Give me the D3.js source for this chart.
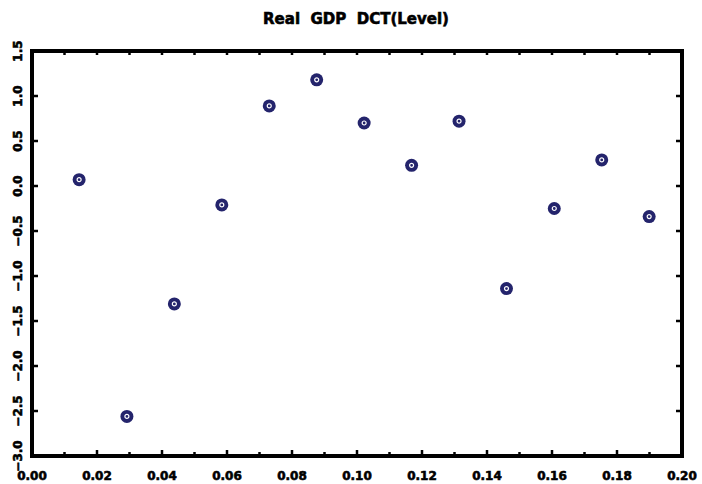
<!DOCTYPE html>
<html>
<head>
<meta charset="utf-8">
<script src="https://cdn.jsdelivr.net/npm/d3@7"></script>
<style>
  body { margin: 0; background: #fff; }
  text { font-family: "DejaVu Sans", "Liberation Sans", sans-serif; font-weight: bold; fill: #000;
         stroke: #000; stroke-width: 0.6px; white-space: pre; }
</style>
</head>
<body>
<div id="chart"></div>
<script>
// values
const xValues = [0.0145, 0.0292, 0.0438, 0.0584, 0.0730, 0.0876, 0.1022,
                 0.1168, 0.1314, 0.1460, 0.1607, 0.1753, 0.1899];
const yValues = [0.07, -2.56, -1.31, -0.21, 0.89, 1.18, 0.70,
                 0.23, 0.72, -1.14, -0.25, 0.29, -0.34];
const xTicks = [0, 0.02, 0.04, 0.06, 0.08, 0.10, 0.12, 0.14, 0.16, 0.18, 0.20];
const xMinorTicks = d3.range(1, 20, 2).map((d) => d / 100);
const yTicks = [-3.0, -2.5, -2.0, -1.5, -1.0, -0.5, 0.0, 0.5, 1.0, 1.5];
const title = "Real  GDP  DCT(Level)";

const width = 702;
const height = 484;
const margin = { top: 51, right: 20, bottom: 28, left: 32 };

const x = d3.scaleLinear().domain([0, 0.2]).range([margin.left, width - margin.right]);
const y = d3.scaleLinear().domain([-3, 1.5]).range([height - margin.bottom, margin.top]);

const svg = d3.select("#chart").append("svg")
  .attr("width", width)
  .attr("height", height);

svg.append("text")
  .attr("x", 356)
  .attr("y", 24)
  .attr("text-anchor", "middle")
  .style("font-size", "15px")
  .text(title);

// ticks, drawn inward
const gTicks = svg.append("g").attr("stroke", "#000").attr("stroke-width", 2.5);
gTicks.selectAll(".xb-major").data(xTicks.slice(1, -1)).join("line")
  .attr("x1", (d) => x(d)).attr("x2", (d) => x(d))
  .attr("y1", y(-3)).attr("y2", y(-3) - 6);
gTicks.selectAll(".xb-minor").data(xMinorTicks).join("line")
  .attr("x1", (d) => x(d)).attr("x2", (d) => x(d))
  .attr("y1", y(-3)).attr("y2", y(-3) - 4);
gTicks.selectAll(".xt").data(xTicks.slice(1, -1).concat(xMinorTicks)).join("line")
  .attr("x1", (d) => x(d)).attr("x2", (d) => x(d))
  .attr("y1", y(1.5)).attr("y2", y(1.5) + 4);
gTicks.selectAll(".yl").data(yTicks.slice(1, -1)).join("line")
  .attr("x1", x(0)).attr("x2", x(0) + 6)
  .attr("y1", (d) => y(d)).attr("y2", (d) => y(d));
gTicks.selectAll(".yr").data(yTicks.slice(1, -1)).join("line")
  .attr("x1", x(0.2)).attr("x2", x(0.2) - 6)
  .attr("y1", (d) => y(d)).attr("y2", (d) => y(d));

// frame
svg.append("rect")
  .attr("x", x(0)).attr("y", y(1.5))
  .attr("width", x(0.2) - x(0)).attr("height", y(-3) - y(1.5))
  .attr("fill", "none").attr("stroke", "#000").attr("stroke-width", 4);

// tick labels
svg.selectAll(".xlabel").data(xTicks).join("text")
  .attr("x", (d) => x(d))
  .attr("y", y(-3) + 24)
  .attr("text-anchor", "middle")
  .style("font-size", "12px")
  .text((d) => d3.format(".2f")(d));

svg.selectAll(".ylabel").data(yTicks).join("text")
  .attr("transform", (d) => `translate(22,${y(d)}) rotate(-90)`)
  .attr("text-anchor", "middle")
  .style("font-size", "12px")
  .text((d) => d3.format(".1f")(d).replace("-", "\u2212"));

// points
const pts = svg.append("g").selectAll("g").data(xValues.map((d, i) => [d, yValues[i]])).join("g")
  .attr("transform", (d) => `translate(${x(d[0])},${y(d[1])})`);
pts.append("circle").attr("r", 6.5).attr("fill", "#24246c");
pts.append("circle").attr("r", 2).attr("fill", "none").attr("stroke", "#fff").attr("stroke-width", 1.2);
</script>
</body>
</html>
